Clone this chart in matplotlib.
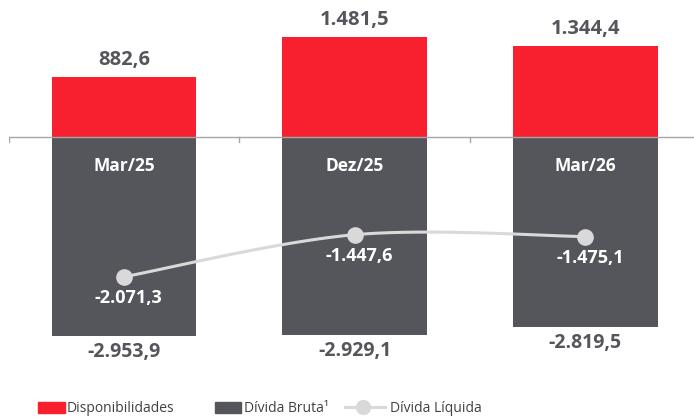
import numpy as np
import matplotlib
matplotlib.use("Agg")
import matplotlib.pyplot as plt
from matplotlib.patches import Rectangle
from matplotlib.lines import Line2D

# Data (R$ milhões)
categories = ["Mar/25", "Dez/25", "Mar/26"]
disponibilidades = [882.6, 1481.5, 1344.4]
divida_bruta = [-2953.9, -2929.1, -2819.5]
divida_liquida = [-2071.3, -1447.6, -1475.1]

RED = "#F8202E"
GRAY = "#55565B"
LINE = "#D9D9D9"
TEXT = "#55565B"

plt.rcParams["font.family"] = ["Open Sans", "DejaVu Sans"]


def fmt_br(v):
    s = f"{v:,.1f}"
    return s.replace(",", "X").replace(".", ",").replace("X", ".")


def smooth(xs, ys, sx, sy, n=60):
    # Catmull-Rom through the points, computed in pixel-like space
    px = np.array(xs) * sx
    py = np.array(ys) * sy
    P = np.column_stack([px, py])
    P = np.vstack([P[0], P, P[-1]])
    out = []
    for i in range(1, len(P) - 2):
        p0, p1, p2, p3 = P[i - 1], P[i], P[i + 1], P[i + 2]
        t = np.linspace(0, 1, n)[:, None]
        c = 0.5 * ((2 * p1) + (-p0 + p2) * t + (2 * p0 - 5 * p1 + 4 * p2 - p3) * t ** 2
                   + (-p0 + 3 * p1 - 3 * p2 + p3) * t ** 3)
        out.append(c)
    c = np.vstack(out)
    return c[:, 0] / sx, c[:, 1] / sy


W, H = 694, 417
fig = plt.figure(figsize=(W / 100, H / 100), dpi=100)

# axes in pixel terms: x from 9px, 230.7px per category; zero line at y=137px
px_per_unit = 0.0675
ax_left, ax_w = 8.5, 3 * 230.7
ax_top, ax_bot = 0, 385
ymax = 137 / px_per_unit
ymin = -(ax_bot - 137) / px_per_unit
ax = fig.add_axes([ax_left / W, 1 - ax_bot / H, ax_w / W, (ax_bot - ax_top) / H])
ax.set_xlim(-0.5, 2.5)
ax.set_ylim(ymin, ymax)
ax.axis("off")

x = np.arange(len(categories))
bw = 0.627
ax.bar(x, disponibilidades, bw, color=RED, zorder=2)
ax.bar(x, divida_bruta, bw, color=GRAY, zorder=2)

# zero axis with category boundary ticks
ax.axhline(0, color="#A6A6A6", lw=1.0, zorder=3)
tick_len = 5 / px_per_unit
for b in np.arange(-0.5, 2.6, 1.0):
    ax.plot([b, b], [0, -tick_len], color="#A6A6A6", lw=1.0, zorder=3)

sx, sy = 230.7, px_per_unit
lx, ly = smooth(x, divida_liquida, sx, sy)
ax.plot(lx, ly, color=LINE, lw=2.2, zorder=4, solid_capstyle="round")
ax.plot(x, divida_liquida, "o", color=LINE, ms=11, zorder=5)

for i in range(len(categories)):
    ax.text(x[i], disponibilidades[i] + 17 / px_per_unit, fmt_br(disponibilidades[i]),
            ha="center", va="center", fontsize=14.5, fontweight="bold", color=TEXT)
    ax.text(x[i], divida_bruta[i] - 16 / px_per_unit, fmt_br(divida_bruta[i]),
            ha="center", va="center", fontsize=14, fontweight="bold", color=TEXT)
    ax.text(x[i], -29 / px_per_unit, categories[i],
            ha="center", va="center", fontsize=12.5, fontweight="bold", color="white")
    ax.text(x[i] + 0.02, divida_liquida[i] - 21 / px_per_unit, fmt_br(divida_liquida[i]),
            ha="center", va="center", fontsize=13, fontweight="bold", color="white", zorder=6)

# legend, drawn by hand in figure pixels
def fx(p):
    return p / W


def fy(p):
    return 1 - p / H


leg_y = 408
fig.patches.append(Rectangle((fx(38), fy(413)), fx(27), 11 / H, color=RED, transform=fig.transFigure))
fig.text(fx(67), fy(leg_y), "Disponibilidades", ha="left", va="center", fontsize=10, color="#404040")
fig.patches.append(Rectangle((fx(215), fy(413)), fx(26), 11 / H, color=GRAY, transform=fig.transFigure))
fig.text(fx(244), fy(leg_y), "Dívida Bruta¹", ha="left", va="center", fontsize=10, color="#404040")
fig.lines.append(Line2D([fx(345), fx(385)], [fy(leg_y - 1), fy(leg_y - 1)], color=LINE, lw=2.2,
                        transform=fig.transFigure))
fig.lines.append(Line2D([fx(363)], [fy(leg_y - 1)], marker="o", ms=10, color=LINE,
                        transform=fig.transFigure))
fig.text(fx(390), fy(leg_y), "Dívida Líquida", ha="left", va="center", fontsize=10, color="#404040")

fig.savefig("out.png", dpi=100)
